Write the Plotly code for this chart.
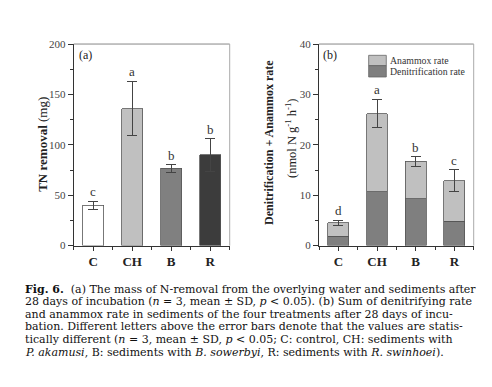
import plotly.graph_objects as go

# ---- data ----
categories = ["C", "CH", "B", "R"]
tn_removal = [40, 136, 76.5, 90]
tn_err = [4, 27, 3.5, 16]
tn_letters = ["c", "a", "b", "b"]

denitrification = [1.9, 10.7, 9.3, 4.8]
anammox = [2.6, 15.5, 7.4, 8.1]
rate_err = [0.5, 2.85, 0.95, 2.2]
rate_letters = ["d", "a", "b", "c"]

caption_lines = [
    "<b>Fig. 6.</b>  (a) The mass of N-removal from the overlying water and sediments after",
    "28 days of incubation (<i>n</i> = 3, mean ± SD, <i>p</i> &lt; 0.05). (b) Sum of denitrifying rate",
    "and anammox rate in sediments of the four treatments after 28 days of incu-",
    "bation. Different letters above the error bars denote that the values are statis-",
    "tically different (<i>n</i> = 3, mean ± SD, <i>p</i> &lt; 0.05; C: control, CH: sediments with",
    "<i>P. akamusi</i>, B: sediments with <i>B. sowerbyi</i>, R: sediments with <i>R. swinhoei</i>).",
]

W, H = 492, 387
FONT = "Liberation Serif"
CAPFONT = "DejaVu Serif"
xpos = list(range(len(categories)))

fig = go.Figure()

bar_colors_a = ["#ffffff", "#c0c0c0", "#808080", "#3c3c3c"]
fig.add_trace(go.Bar(
    x=xpos, y=tn_removal, width=0.54, xaxis="x", yaxis="y",
    marker=dict(color=bar_colors_a, line=dict(color="#555555", width=0.8)),
    error_y=dict(type="data", array=tn_err, color="#444444", thickness=1, width=5),
    showlegend=False,
))

fig.add_trace(go.Bar(
    x=xpos, y=denitrification, width=0.54, xaxis="x2", yaxis="y2",
    marker=dict(color="#7f7f7f", line=dict(color="#555555", width=0.8)),
    showlegend=False,
))
fig.add_trace(go.Bar(
    x=xpos, y=anammox, width=0.54, xaxis="x2", yaxis="y2",
    marker=dict(color="#c0c0c0", line=dict(color="#555555", width=0.8)),
    error_y=dict(type="data", array=rate_err, color="#444444", thickness=1, width=5),
    showlegend=False,
))

xa_dom = [65.7 / W, 221.7 / W]
xb_dom = [311 / W, 465.7 / W]
y_dom = [(H - 239) / H, (H - 31) / H]

common_x = dict(
    range=[-0.5, 3.5], tickmode="array", tickvals=xpos, ticktext=categories,
    ticks="outside", ticklen=4, tickcolor="#333333", showline=True, linecolor="#333333",
    linewidth=1, showgrid=False, zeroline=False,
    tickfont=dict(family=FONT, size=13, color="#222222", weight="bold"),
    minor=dict(tickmode="linear", tick0=0.5, dtick=1, ticks="outside", ticklen=3,
               tickcolor="#333333", showgrid=False),
)
common_y = dict(
    ticks="outside", ticklen=5, tickcolor="#333333", showline=True, linecolor="#333333",
    linewidth=1, showgrid=False, zeroline=False,
    tickfont=dict(family=FONT, size=11, color="#444444"),
)

fig.update_layout(
    width=W, height=H, margin=dict(l=0, r=0, t=0, b=0),
    paper_bgcolor="white", plot_bgcolor="white",
    barmode="stack", showlegend=False,
    xaxis=dict(domain=xa_dom, anchor="y", **common_x),
    yaxis=dict(domain=y_dom, anchor="x", range=[0, 200], tickvals=[0, 50, 100, 150, 200],
               minor=dict(dtick=25, ticks="outside", ticklen=3, tickcolor="#333333", showgrid=False),
               **common_y),
    xaxis2=dict(domain=xb_dom, anchor="y2", **common_x),
    yaxis2=dict(domain=y_dom, anchor="x2", range=[0, 40], tickvals=[0, 10, 20, 30, 40],
                minor=dict(dtick=5, ticks="outside", ticklen=3, tickcolor="#333333", showgrid=False),
                **common_y),
)

shapes = []
annotations = []
for xr, yr in [("x domain", "y domain"), ("x2 domain", "y2 domain")]:
    shapes.append(dict(type="line", xref=xr, yref=yr, x0=0, x1=1, y0=1, y1=1,
                       line=dict(color="#888888", width=1)))
    shapes.append(dict(type="line", xref=xr, yref=yr, x0=1, x1=1, y0=0, y1=1,
                       line=dict(color="#aaaaaa", width=1)))

# legend (panel b)
legend_items = [("Anammox rate", "#c0c0c0", 0.944, 0.8928), ("Denitrification rate", "#7f7f7f", 0.8928, 0.8365)]
for label, col, y1, y0 in legend_items:
    shapes.append(dict(type="rect", xref="x2 domain", yref="y2 domain", x0=0.321, x1=0.435,
                       y0=y0, y1=y1, fillcolor=col, line=dict(color="#666666", width=0.8)))
    annotations.append(dict(text=label, xref="x2 domain", yref="y2 domain", x=0.447,
                            y=(y0 + y1) / 2, xanchor="left", yanchor="middle", showarrow=False,
                            font=dict(family=FONT, size=9.8, color="#333333")))

# panel labels
annotations.append(dict(text="(a)", xref="x domain", yref="y domain", x=0.02, y=0.945,
                        xanchor="left", yanchor="middle", showarrow=False,
                        font=dict(family=FONT, size=12, color="#222222")))
annotations.append(dict(text="(b)", xref="x2 domain", yref="y2 domain", x=0.012, y=0.945,
                        xanchor="left", yanchor="middle", showarrow=False,
                        font=dict(family=FONT, size=12, color="#222222")))

# significance letters
for i, (v, e, l) in enumerate(zip(tn_removal, tn_err, tn_letters)):
    annotations.append(dict(text=l, x=xpos[i], y=v + e, xref="x", yref="y", xanchor="center",
                            yanchor="bottom", yshift=0, showarrow=False,
                            font=dict(family=FONT, size=13, color="#333333")))
for i, (d, a, e, l) in enumerate(zip(denitrification, anammox, rate_err, rate_letters)):
    annotations.append(dict(text=l, x=xpos[i], y=d + a + e, xref="x2", yref="y2", xanchor="center",
                            yanchor="bottom", yshift=0, showarrow=False,
                            font=dict(family=FONT, size=13, color="#333333")))

# axis titles
annotations.append(dict(text="<b>TN removal</b> (mg)", xref="paper", yref="paper",
                        x=35 / W, y=(H - 135) / H, textangle=-90, showarrow=False,
                        xanchor="center", yanchor="middle",
                        font=dict(family=FONT, size=13, color="#222222")))
annotations.append(dict(text="<b>Denitrification + Anammox rate</b>", xref="paper", yref="paper",
                        x=261 / W, y=(H - 133) / H, textangle=-90, showarrow=False,
                        xanchor="center", yanchor="middle",
                        font=dict(family=FONT, size=12, color="#222222")))
annotations.append(dict(text="(nmol N g<sup>-1</sup> h<sup>-1</sup>)", xref="paper", yref="paper",
                        x=283 / W, y=(H - 128) / H, textangle=-90, showarrow=False,
                        xanchor="center", yanchor="middle",
                        font=dict(family=FONT, size=12.5, color="#222222")))

# caption
cap_y = [284, 297, 310, 323, 336, 349]
for txt, yy in zip(caption_lines, cap_y):
    annotations.append(dict(text=txt, xref="paper", yref="paper", x=15 / W, y=(H - yy) / H,
                            xanchor="left", yanchor="middle", showarrow=False,
                            font=dict(family=CAPFONT, size=11, color="#111111")))

fig.update_layout(shapes=shapes, annotations=annotations)
fig.write_html("out.html")
